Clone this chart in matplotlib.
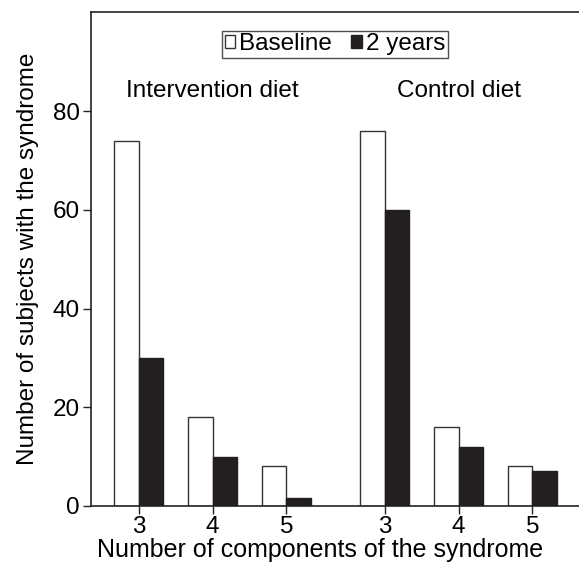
import matplotlib
matplotlib.use("Agg")
import matplotlib.pyplot as plt
import numpy as np

plt.rcParams["font.family"] = ["Liberation Sans", "DejaVu Sans"]

components = ["3", "4", "5"]
intervention_baseline = [74, 18, 8]
intervention_2y = [30, 10, 1.6]
control_baseline = [76, 16, 8]
control_2y = [60, 12, 7]

fig = plt.figure(figsize=(5.79, 5.64), dpi=100)
ax = fig.add_axes([0.157, 0.103, 0.843, 0.875])

w = 1.0
pos_int = np.array([0, 3, 6])
pos_ctl = np.array([10, 13, 16])

ax.bar(pos_int - w / 2, intervention_baseline, w, color="white", edgecolor="#333333", linewidth=1.0, label="Baseline")
ax.bar(pos_int + w / 2, intervention_2y, w, color="#231f20", edgecolor="#231f20", linewidth=1.0, label="2 years")
ax.bar(pos_ctl - w / 2, control_baseline, w, color="white", edgecolor="#333333", linewidth=1.0)
ax.bar(pos_ctl + w / 2, control_2y, w, color="#231f20", edgecolor="#231f20", linewidth=1.0)

ax.set_xlim(-1.95, 17.9)
ax.set_ylim(0, 100)
ax.set_yticks([0, 20, 40, 60, 80])
ax.set_xticks(list(pos_int) + list(pos_ctl))
ax.set_xticklabels(components + components)
ax.tick_params(axis="both", labelsize=17.5, length=6, width=1, color="#222222", pad=2)
ax.tick_params(axis="x", pad=1)
ax.spines["right"].set_visible(False)
for s in ["left", "top", "bottom"]:
    ax.spines[s].set_linewidth(1.2)
    ax.spines[s].set_color("#222222")

ax.set_xlabel("Number of components of the syndrome", fontsize=18, va="bottom")
ax.xaxis.set_label_coords(0.47, -0.113)
ax.set_ylabel("Number of subjects with the syndrome", fontsize=17.5, labelpad=10)

ax.text(3, 84, "Intervention diet", fontsize=17.5, ha="center", va="center")
ax.text(13, 84, "Control diet", fontsize=17.5, ha="center", va="center")

leg = ax.legend(loc="upper center", bbox_to_anchor=(0.5, 0.963), ncol=2, fontsize=17.5,
                frameon=True, fancybox=False, edgecolor="#222222", handlelength=0.45,
                handleheight=0.45, handletextpad=0.15, columnspacing=0.8, borderpad=0.1,
                borderaxespad=0)
leg.get_frame().set_linewidth(1.0)

plt.savefig("out.png", dpi=100)
